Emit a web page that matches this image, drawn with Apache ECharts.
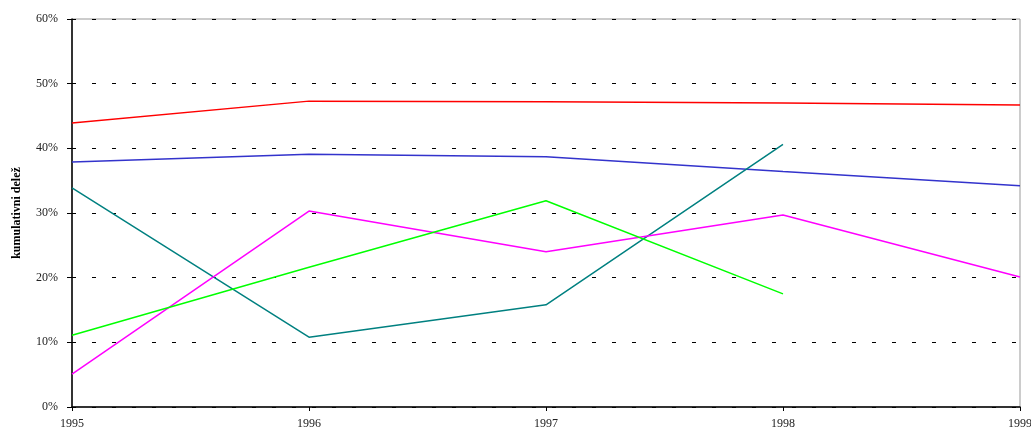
<!DOCTYPE html>
<html>
<head>
<meta charset="utf-8">
<script src="https://cdn.jsdelivr.net/npm/echarts@6/dist/echarts.min.js"></script>
<style>
  html, body { margin: 0; padding: 0; background: #fff; }
  #chart { width: 1031px; height: 427px; }
</style>
</head>
<body>
<div id="chart"></div>
<script>
// Years along the horizontal axis
const years = ['1995', '1996', '1997', '1998', '1999'];

// Cumulative share (%) per year for each series
const redSeries = [43.9, 47.3, 47.2, 47.0, 46.7];
const blueSeries = [37.9, 39.1, 38.7, 36.4, 34.2];
const tealSeries = [33.9, 10.8, 15.8, 40.6, null];
const magentaSeries = [5.1, 30.3, 24.0, 29.7, 20.1];
const greenSeries = [11.1, 21.6, 31.9, 17.5, null];

const seriesList = [
  { name: 'A', data: redSeries, color: '#ff0000' },
  { name: 'B', data: blueSeries, color: '#3333cc' },
  { name: 'C', data: tealSeries, color: '#008080' },
  { name: 'D', data: magentaSeries, color: '#ff00ff' },
  { name: 'E', data: greenSeries, color: '#00ff00' }
];

const chart = echarts.init(document.getElementById('chart'), null, { renderer: 'canvas' });

chart.setOption({
  animation: false,
  backgroundColor: '#ffffff',
  grid: {
    left: 72, right: 11, top: 19, bottom: 20,
    outerBoundsMode: 'none',
    containLabel: false,
    show: true, borderColor: '#999999', borderWidth: 1, backgroundColor: 'transparent'
  },
  xAxis: {
    type: 'category',
    data: years,
    boundaryGap: false,
    axisLine: { lineStyle: { color: '#000', width: 1.5 } },
    axisTick: { show: true, length: 4, lineStyle: { color: '#000' } },
    axisLabel: { color: '#222', fontFamily: 'Liberation Serif', fontSize: 12, margin: 11 },
    splitLine: { show: false }
  },
  yAxis: {
    type: 'value',
    min: 0, max: 60, interval: 10,
    name: 'kumulativni delež',
    nameLocation: 'middle',
    nameGap: 49,
    nameTextStyle: { fontFamily: 'Liberation Serif', fontWeight: 'bold', fontSize: 12, color: '#000' },
    axisLine: { show: true, lineStyle: { color: '#000', width: 1.5 } },
    axisTick: { show: true, length: 5, lineStyle: { color: '#000' } },
    axisLabel: {
      color: '#222', fontFamily: 'Liberation Serif', fontSize: 12, margin: 14,
      formatter: v => v + '%'
    },
    splitLine: { show: true, lineStyle: { color: '#000', width: 1, type: [4, 16] } }
  },
  series: seriesList.map(s => ({
    name: s.name,
    type: 'line',
    data: s.data,
    showSymbol: false,
    symbol: 'none',
    connectNulls: false,
    lineStyle: { color: s.color, width: 1.5 },
    itemStyle: { color: s.color }
  }))
});
</script>
</body>
</html>
